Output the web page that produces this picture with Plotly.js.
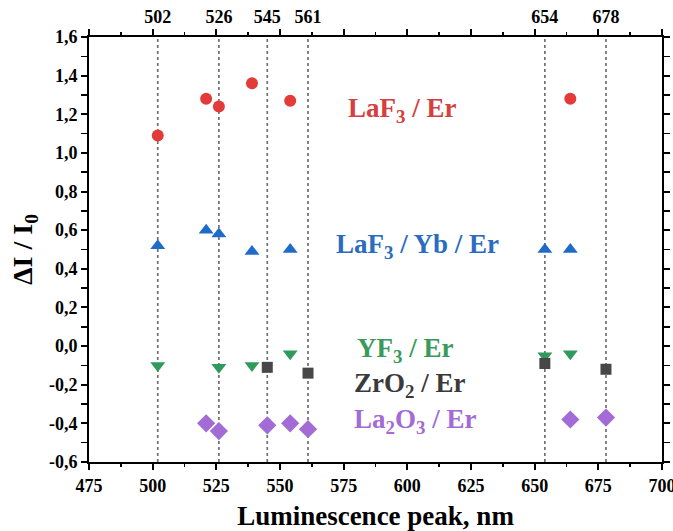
<!DOCTYPE html>
<html>
<head>
<meta charset="utf-8">
<script src="https://cdn.plot.ly/plotly-3.0.1.min.js"></script>
<style>html,body{margin:0;padding:0;background:#fff;}#chart{width:673px;height:531px;}</style>
</head>
<body>
<div id="chart"></div>
<script>
// Peak markers (vertical dashed lines and top labels)
const peakLines = [502, 526, 545, 561, 654, 678];
const peakLabels = ["502", "526", "545", "561", "654", "678"];

// Series: LaF3 / Er
const laf3ErX = [502, 521, 526, 539, 554, 664];
const laf3ErY = [1.09, 1.28, 1.24, 1.36, 1.27, 1.28];
// Series: LaF3 / Yb / Er
const laf3YbErX = [502, 521, 526, 539, 554, 654, 664];
const laf3YbErY = [0.52, 0.60, 0.58, 0.49, 0.50, 0.50, 0.50];
// Series: YF3 / Er
const yf3ErX = [502, 526, 539, 554, 654, 664];
const yf3ErY = [-0.10, -0.11, -0.10, -0.04, -0.05, -0.04];
// Series: ZrO2 / Er
const zro2ErX = [545, 561, 654, 678];
const zro2ErY = [-0.11, -0.14, -0.09, -0.12];
// Series: La2O3 / Er
const la2o3ErX = [521, 526, 545, 554, 561, 664, 678];
const la2o3ErY = [-0.40, -0.44, -0.41, -0.40, -0.43, -0.38, -0.37];

// Axis ticks
const xTickVals = [475, 500, 525, 550, 575, 600, 625, 650, 675, 700];
const yTickVals = [-0.6, -0.4, -0.2, 0.0, 0.2, 0.4, 0.6, 0.8, 1.0, 1.2, 1.4, 1.6];
const yTickText = ["-0,6", "-0,4", "-0,2", "0,0", "0,2", "0,4", "0,6", "0,8", "1,0", "1,2", "1,4", "1,6"];

// Series labels
const seriesNames = ["LaF<sub>3</sub> / Er", "LaF<sub>3</sub> / Yb / Er", "YF<sub>3</sub> / Er", "ZrO<sub>2</sub> / Er", "La<sub>2</sub>O<sub>3</sub> / Er"];
const labelX = [598, 604, 599, 601, 603];
const labelY = [1.22, 0.52, -0.02, -0.20, -0.39];

const colors = ["#e33a3a", "#1f6cc8", "#2f9a5b", "#474747", "#a36bd6"];
const textColors = ["#d4403e", "#2a6cc0", "#3a9a5c", "#3a3a3a", "#a36bd6"];
const symbols = ["circle", "triangle-up", "triangle-down", "square", "diamond"];
const sizes = [12, 13, 13, 11, 14];

const FONT = "Liberation Serif, Times New Roman, serif";

const xs = [laf3ErX, laf3YbErX, yf3ErX, zro2ErX, la2o3ErX];
const ys = [laf3ErY, laf3YbErY, yf3ErY, zro2ErY, la2o3ErY];

const traces = xs.map((x, i) => ({
  x: x, y: ys[i], type: "scatter", mode: "markers", name: seriesNames[i],
  marker: {symbol: symbols[i], size: sizes[i], color: colors[i], line: {width: 0}},
  showlegend: false, xaxis: "x", yaxis: "y"
}));

// invisible trace to activate top axis
traces.push({x: [peakLines[0]], y: [0], xaxis: "x2", yaxis: "y", mode: "markers",
  marker: {opacity: 0}, showlegend: false, hoverinfo: "skip"});

const shapes = peakLines.map(v => ({
  type: "line", xref: "x", yref: "paper", x0: v, x1: v, y0: 0, y1: 1,
  line: {color: "#707070", width: 1.7, dash: "3px,3px"}, layer: "below"
}));

const annotations = seriesNames.map((t, i) => ({
  x: labelX[i], y: labelY[i], xref: "x", yref: "y", text: t, showarrow: false,
  font: {family: FONT, size: 27, color: textColors[i], weight: 700}
}));

const axisCommon = {
  showgrid: false, zeroline: false, showline: true, linecolor: "#000", linewidth: 2,
  ticks: "outside", ticklen: 6, tickwidth: 2, tickcolor: "#000",
  tickfont: {family: FONT, size: 18, color: "#000", weight: 700}
};

const layout = {
  width: 673, height: 531,
  margin: {l: 89, r: 11, t: 37, b: 69},
  paper_bgcolor: "#fff", plot_bgcolor: "#fff",
  xaxis: Object.assign({}, axisCommon, {
    range: [475, 700], tickvals: xTickVals, mirror: "allticks", ticklabeloverflow: "allow",
    minor: {ticks: "outside", ticklen: 3, tickwidth: 1.5, tickcolor: "#000", dtick: 12.5, tick0: 475},
    title: {text: "Luminescence peak, nm", font: {family: FONT, size: 27, color: "#000", weight: 700}, standoff: 12}
  }),
  xaxis2: {
    overlaying: "x", side: "top", range: [475, 700], showgrid: false, zeroline: false,
    showline: false, ticks: "", tickvals: peakLines, ticktext: peakLabels, ticklabelstandoff: 9,
    tickfont: {family: FONT, size: 18, color: "#000", weight: 700}
  },
  yaxis: Object.assign({}, axisCommon, {
    range: [-0.6, 1.6], tickvals: yTickVals, ticktext: yTickText, mirror: "allticks",
    minor: {ticks: "outside", ticklen: 3, tickwidth: 1.5, tickcolor: "#000", dtick: 0.1, tick0: -0.6},
    title: {text: "ΔI / I<sub>0</sub>", font: {family: FONT, size: 28, color: "#000", weight: 700}, standoff: 8}
  }),
  shapes: shapes,
  annotations: annotations
};

Plotly.newPlot("chart", traces, layout, {displayModeBar: false, staticPlot: true});
</script>
</body>
</html>
